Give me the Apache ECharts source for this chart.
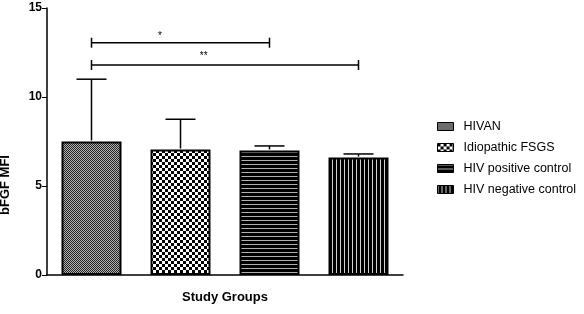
<!DOCTYPE html>
<html>
<head>
<meta charset="utf-8">
<script src="https://cdn.jsdelivr.net/npm/echarts@6/dist/echarts.min.js"></script>
<style>
    html, body {margin: 0; padding: 0; background: #fff;}
    #chart {width: 584px; height: 314px;}
</style>
</head>
<body>
<div id="chart"></div>
<script>
// 数据
const groups = ['HIVAN', 'Idiopathic FSGS', 'HIV positive control', 'HIV negative control']
const means = [7.5, 7.05, 7.0, 6.6]
const errUpper = [11.0, 8.75, 7.25, 6.8]
const yTicks = [0, 5, 10, 15]
const bracketFrom = [0, 0]
const bracketTo = [2, 3]
const bracketY = [13.05, 11.8]
const bracketLabels = ['*', '**']

const FONT = '"Liberation Sans", Arial, sans-serif'

// 填充图案
const makePattern = (kind) => {
    const c = document.createElement('canvas')
    const ctx = c.getContext('2d')
    if (kind === 'dots') {
        c.width = 2; c.height = 2
        ctx.fillStyle = '#b4b4b4'; ctx.fillRect(0, 0, 2, 2)
        ctx.fillStyle = '#222'; ctx.fillRect(0, 0, 1, 1); ctx.fillRect(1, 1, 1, 1)
    } else if (kind === 'checker') {
        c.width = 6; c.height = 6
        ctx.fillStyle = '#fff'; ctx.fillRect(0, 0, 6, 6)
        ctx.fillStyle = '#000'; ctx.fillRect(0, 0, 3, 3); ctx.fillRect(3, 3, 3, 3)
    } else if (kind === 'hlines') {
        c.width = 4; c.height = 4
        ctx.fillStyle = '#000'; ctx.fillRect(0, 0, 4, 4)
        ctx.fillStyle = '#b0b0b0'; ctx.fillRect(0, 0, 4, 1)
    } else {
        c.width = 4; c.height = 4
        ctx.fillStyle = '#000'; ctx.fillRect(0, 0, 4, 4)
        ctx.fillStyle = '#d0d0d0'; ctx.fillRect(0, 0, 1, 4)
    }
    return {image: c, repeat: 'repeat'}
}
const patterns = ['dots', 'checker', 'hlines', 'vlines'].map(makePattern)

const chart = echarts.init(document.getElementById('chart'))

const barSeries = groups.map((g, i) => ({
    name: g,
    type: 'bar',
    barWidth: 60,
    barGap: '-100%',
    data: groups.map((_, j) => j === i ? means[i] : '-'),
    itemStyle: {color: patterns[i], borderColor: '#000', borderWidth: 2},
    z: 2,
}))

const option = {
    animation: false,
    grid: {left: 47, top: 8, width: 356, height: 267},
    legend: {
        orient: 'vertical',
        left: 432,
        top: 115,
        icon: 'rect',
        itemWidth: 16,
        itemHeight: 8,
        itemGap: 8,
        itemStyle: {borderWidth: 1, borderColor: '#000'},
        textStyle: {fontFamily: FONT, fontSize: 12.5, color: '#000', padding: [0, 0, 0, 5]},
        data: groups,
    },
    xAxis: {
        type: 'category',
        data: groups,
        name: 'Study Groups',
        nameLocation: 'middle',
        nameGap: 16,
        nameTextStyle: {fontFamily: FONT, fontSize: 13, fontWeight: 'bold', color: '#000'},
        axisLine: {lineStyle: {color: '#000', width: 1.5}},
        axisTick: {alignWithLabel: true, length: 5, lineStyle: {color: '#000', width: 1}},
        axisLabel: {show: false},
    },
    yAxis: {
        type: 'value',
        min: yTicks[0],
        max: yTicks[yTicks.length - 1],
        interval: 5,
        splitLine: {show: false},
        axisLine: {show: true, lineStyle: {color: '#000', width: 1.5}},
        axisTick: {show: true, length: 5, lineStyle: {color: '#000', width: 1}},
        axisLabel: {fontFamily: FONT, fontSize: 12, fontWeight: 'bold', color: '#000', margin: 5},
    },
    graphic: [{
        type: 'text',
        x: 5,
        y: 185,
        rotation: Math.PI / 2,
        style: {
            text: 'bFGF MFI',
            font: 'bold 13px ' + FONT,
            fill: '#000',
            align: 'center',
            verticalAlign: 'middle',
        },
    }],
    series: [
        ...barSeries,
        {
            // 误差线
            type: 'custom',
            data: means.map((m, i) => [i, m, errUpper[i]]),
            encode: {x: 0, y: [1, 2]},
            z: 3,
            renderItem: (params, api) => {
                const top = api.coord([api.value(0), api.value(1)])
                const up = api.coord([api.value(0), api.value(2)])
                const st = {stroke: '#000', lineWidth: 1.5}
                return {
                    type: 'group',
                    children: [
                        {type: 'line', shape: {x1: top[0], y1: top[1] - 1, x2: up[0], y2: up[1]}, style: st},
                        {type: 'line', shape: {x1: up[0] - 15, y1: up[1], x2: up[0] + 15, y2: up[1]}, style: st},
                    ],
                }
            },
        },
        {
            // 显著性标注
            type: 'custom',
            data: bracketFrom.map((f, i) => [f, bracketTo[i], bracketY[i]]),
            encode: {x: [0, 1], y: 2},
            z: 3,
            renderItem: (params, api) => {
                const a = api.coord([api.value(0), api.value(2)])
                const b = api.coord([api.value(1), api.value(2)])
                const st = {stroke: '#000', lineWidth: 1.5}
                const i = params.dataIndex
                const frac = i === 0 ? 0.385 : 0.42
                const dy = i === 0 ? 6 : 9
                return {
                    type: 'group',
                    children: [
                        {type: 'line', shape: {x1: a[0], y1: a[1], x2: b[0], y2: b[1]}, style: st},
                        {type: 'line', shape: {x1: a[0], y1: a[1] - 5, x2: a[0], y2: a[1] + 5}, style: st},
                        {type: 'line', shape: {x1: b[0], y1: b[1] - 5, x2: b[0], y2: b[1] + 5}, style: st},
                        {
                            type: 'text',
                            x: a[0] + (b[0] - a[0]) * frac,
                            y: a[1] - dy,
                            style: {
                                text: bracketLabels[i],
                                font: '10px ' + FONT,
                                fill: '#000',
                                align: 'center',
                                verticalAlign: 'middle',
                            },
                        },
                    ],
                }
            },
        },
    ],
}
chart.setOption(option)
</script>
</body>
</html>
